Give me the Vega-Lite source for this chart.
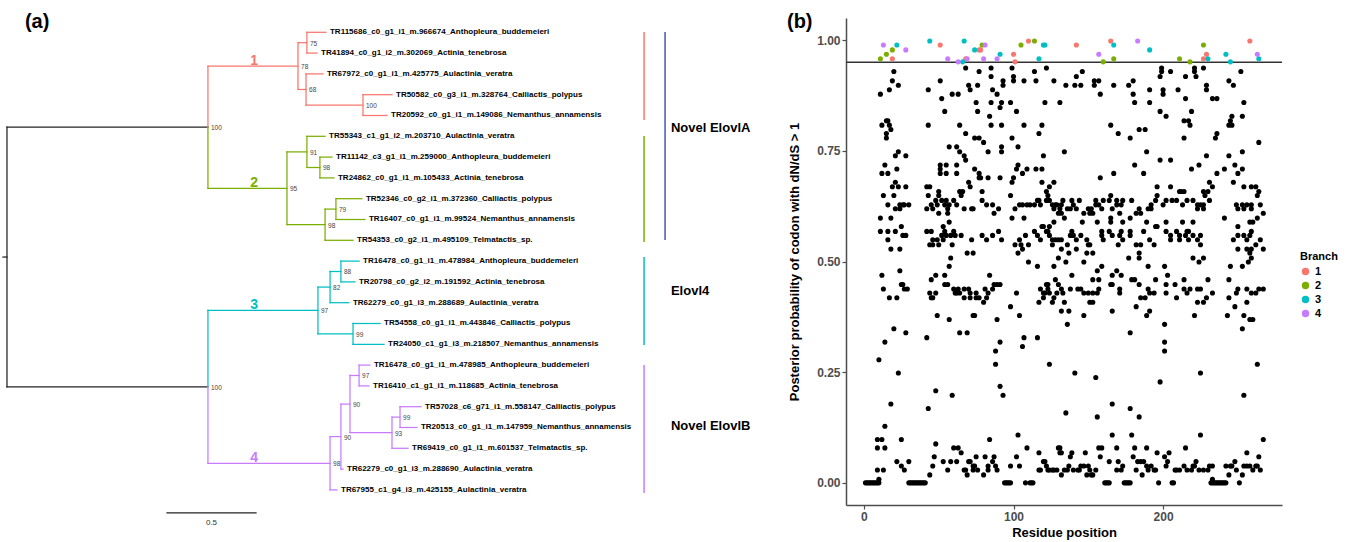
{
"$schema":"https://vega.github.io/schema/vega-lite/v6.json",
"autosize":{"type":"none"},
"width":436,"height":487,
"padding":{"left":846,"top":18,"right":65,"bottom":37},
"background":"white",
"config":{"view":{"stroke":null},"font":"Liberation Sans",
 "axis":{"grid":false,"domainColor":"#4d4d4d","domainWidth":1.5,"tickColor":"#4d4d4d","tickWidth":1.2,"tickSize":4,"labelColor":"#4d4d4d","labelFont":"Liberation Sans","labelFontWeight":"bold","labelFontSize":12,"labelPadding":2,"titleFont":"Liberation Sans","titleFontWeight":"bold","titleFontSize":13,"titleColor":"black"}},
"datasets":{
"seg":[
{"x":0,"x2":0,"y":5.5625,"y2":18.047,"g":"0"},
{"x":0,"x2":1.129,"y":5.5625,"y2":5.5625,"g":"0"},
{"x":0,"x2":1.129,"y":18.047,"y2":18.047,"g":"0"},
{"x":-0.0225,"x2":0,"y":11.805,"y2":11.805,"g":"0"},
{"x":0.899,"x2":1.399,"y":24.11,"y2":24.11,"g":"0"},
{"x":1.129,"x2":1.129,"y":2.625,"y2":5.5625,"g":"1"},
{"x":1.129,"x2":1.635,"y":2.625,"y2":2.625,"g":"1"},
{"x":1.635,"x2":1.635,"y":1.5,"y2":3.75,"g":"1"},
{"x":1.635,"x2":1.685,"y":1.5,"y2":1.5,"g":"1"},
{"x":1.685,"x2":1.685,"y":1,"y2":2,"g":"1"},
{"x":1.685,"x2":1.792,"y":1,"y2":1,"g":"1"},
{"x":1.685,"x2":1.742,"y":2,"y2":2,"g":"1"},
{"x":1.635,"x2":1.68,"y":3.75,"y2":3.75,"g":"1"},
{"x":1.68,"x2":1.68,"y":3,"y2":4.5,"g":"1"},
{"x":1.68,"x2":1.775,"y":3,"y2":3,"g":"1"},
{"x":1.68,"x2":2.0,"y":4.5,"y2":4.5,"g":"1"},
{"x":2.0,"x2":2.0,"y":4,"y2":5,"g":"1"},
{"x":2.0,"x2":2.163,"y":4,"y2":4,"g":"1"},
{"x":2.0,"x2":2.135,"y":5,"y2":5,"g":"1"},
{"x":1.129,"x2":1.129,"y":5.5625,"y2":8.5,"g":"2"},
{"x":1.129,"x2":1.573,"y":8.5,"y2":8.5,"g":"2"},
{"x":1.573,"x2":1.573,"y":6.75,"y2":10.25,"g":"2"},
{"x":1.573,"x2":1.685,"y":6.75,"y2":6.75,"g":"2"},
{"x":1.685,"x2":1.685,"y":6,"y2":7.5,"g":"2"},
{"x":1.685,"x2":1.787,"y":6,"y2":6,"g":"2"},
{"x":1.685,"x2":1.758,"y":7.5,"y2":7.5,"g":"2"},
{"x":1.758,"x2":1.758,"y":7,"y2":8,"g":"2"},
{"x":1.758,"x2":1.826,"y":7,"y2":7,"g":"2"},
{"x":1.758,"x2":1.837,"y":8,"y2":8,"g":"2"},
{"x":1.573,"x2":1.787,"y":10.25,"y2":10.25,"g":"2"},
{"x":1.787,"x2":1.787,"y":9.5,"y2":11,"g":"2"},
{"x":1.787,"x2":1.848,"y":9.5,"y2":9.5,"g":"2"},
{"x":1.848,"x2":1.848,"y":9,"y2":10,"g":"2"},
{"x":1.848,"x2":1.994,"y":9,"y2":9,"g":"2"},
{"x":1.848,"x2":2.011,"y":10,"y2":10,"g":"2"},
{"x":1.787,"x2":1.944,"y":11,"y2":11,"g":"2"},
{"x":1.129,"x2":1.129,"y":14.375,"y2":18.047,"g":"3"},
{"x":1.129,"x2":1.747,"y":14.375,"y2":14.375,"g":"3"},
{"x":1.747,"x2":1.747,"y":13.25,"y2":15.5,"g":"3"},
{"x":1.747,"x2":1.815,"y":13.25,"y2":13.25,"g":"3"},
{"x":1.815,"x2":1.815,"y":12.5,"y2":14,"g":"3"},
{"x":1.815,"x2":1.876,"y":12.5,"y2":12.5,"g":"3"},
{"x":1.876,"x2":1.876,"y":12,"y2":13,"g":"3"},
{"x":1.876,"x2":1.978,"y":12,"y2":12,"g":"3"},
{"x":1.876,"x2":1.955,"y":13,"y2":13,"g":"3"},
{"x":1.815,"x2":1.921,"y":14,"y2":14,"g":"3"},
{"x":1.747,"x2":1.944,"y":15.5,"y2":15.5,"g":"3"},
{"x":1.944,"x2":1.944,"y":15,"y2":16,"g":"3"},
{"x":1.944,"x2":2.096,"y":15,"y2":15,"g":"3"},
{"x":1.944,"x2":2.118,"y":16,"y2":16,"g":"3"},
{"x":1.129,"x2":1.129,"y":18.047,"y2":21.719,"g":"4"},
{"x":1.129,"x2":1.815,"y":21.719,"y2":21.719,"g":"4"},
{"x":1.815,"x2":1.815,"y":20.4375,"y2":23,"g":"4"},
{"x":1.815,"x2":1.876,"y":20.4375,"y2":20.4375,"g":"4"},
{"x":1.876,"x2":1.876,"y":18.875,"y2":22,"g":"4"},
{"x":1.876,"x2":1.927,"y":18.875,"y2":18.875,"g":"4"},
{"x":1.927,"x2":1.927,"y":17.5,"y2":20.25,"g":"4"},
{"x":1.927,"x2":1.978,"y":17.5,"y2":17.5,"g":"4"},
{"x":1.978,"x2":1.978,"y":17,"y2":18,"g":"4"},
{"x":1.978,"x2":2.039,"y":17,"y2":17,"g":"4"},
{"x":1.978,"x2":2.034,"y":18,"y2":18,"g":"4"},
{"x":1.927,"x2":2.163,"y":20.25,"y2":20.25,"g":"4"},
{"x":2.163,"x2":2.163,"y":19.5,"y2":21,"g":"4"},
{"x":2.163,"x2":2.208,"y":19.5,"y2":19.5,"g":"4"},
{"x":2.208,"x2":2.208,"y":19,"y2":20,"g":"4"},
{"x":2.208,"x2":2.326,"y":19,"y2":19,"g":"4"},
{"x":2.208,"x2":2.303,"y":20,"y2":20,"g":"4"},
{"x":2.163,"x2":2.253,"y":21,"y2":21,"g":"4"},
{"x":1.876,"x2":1.888,"y":22,"y2":22,"g":"4"},
{"x":1.815,"x2":1.854,"y":23,"y2":23,"g":"4"}
],
"bars":[
{"x":3.579,"x2":3.579,"y":0.99,"y2":5.22,"g":"1"},
{"x":3.579,"x2":3.579,"y":5.99,"y2":11.08,"g":"2"},
{"x":3.697,"x2":3.697,"y":0.99,"y2":10.99,"g":"A"},
{"x":3.579,"x2":3.579,"y":11.8,"y2":16.03,"g":"3"},
{"x":3.579,"x2":3.579,"y":16.99,"y2":23.15,"g":"4"}
],
"tips":[
{"x":1.792,"y":1,"label":"TR115686_c0_g1_i1_m.966674_Anthopleura_buddemeieri"},
{"x":1.742,"y":2,"label":"TR41894_c0_g1_i2_m.302069_Actinia_tenebrosa"},
{"x":1.775,"y":3,"label":"TR67972_c0_g1_i1_m.425775_Aulactinia_veratra"},
{"x":2.163,"y":4,"label":"TR50582_c0_g3_i1_m.328764_Calliactis_polypus"},
{"x":2.135,"y":5,"label":"TR20592_c0_g1_i1_m.149086_Nemanthus_annamensis"},
{"x":1.787,"y":6,"label":"TR55343_c1_g1_i2_m.203710_Aulactinia_veratra"},
{"x":1.826,"y":7,"label":"TR11142_c3_g1_i1_m.259000_Anthopleura_buddemeieri"},
{"x":1.837,"y":8,"label":"TR24862_c0_g1_i1_m.105433_Actinia_tenebrosa"},
{"x":1.994,"y":9,"label":"TR52346_c0_g2_i1_m.372360_Calliactis_polypus"},
{"x":2.011,"y":10,"label":"TR16407_c0_g1_i1_m.99524_Nemanthus_annamensis"},
{"x":1.944,"y":11,"label":"TR54353_c0_g2_i1_m.495109_Telmatactis_sp."},
{"x":1.978,"y":12,"label":"TR16478_c0_g1_i1_m.478984_Anthopleura_buddemeieri"},
{"x":1.955,"y":13,"label":"TR20798_c0_g2_i2_m.191592_Actinia_tenebrosa"},
{"x":1.921,"y":14,"label":"TR62279_c0_g1_i3_m.288689_Aulactinia_veratra"},
{"x":2.096,"y":15,"label":"TR54558_c0_g1_i1_m.443846_Calliactis_polypus"},
{"x":2.118,"y":16,"label":"TR24050_c1_g1_i3_m.218507_Nemanthus_annamensis"},
{"x":2.039,"y":17,"label":"TR16478_c0_g1_i1_m.478985_Anthopleura_buddemeieri"},
{"x":2.034,"y":18,"label":"TR16410_c1_g1_i1_m.118685_Actinia_tenebrosa"},
{"x":2.326,"y":19,"label":"TR57028_c6_g71_i1_m.558147_Calliactis_polypus"},
{"x":2.303,"y":20,"label":"TR20513_c0_g1_i1_m.147959_Nemanthus_annamensis"},
{"x":2.253,"y":21,"label":"TR69419_c0_g1_i1_m.601537_Telmatactis_sp."},
{"x":1.888,"y":22,"label":"TR62279_c0_g1_i3_m.288690_Aulactinia_veratra"},
{"x":1.854,"y":23,"label":"TR67955_c1_g4_i3_m.425155_Aulactinia_veratra"}
],
"boot":[
{"x":1.129,"y":5.5625,"v":"100"},{"x":1.635,"y":2.625,"v":"78"},{"x":1.685,"y":1.5,"v":"75"},{"x":1.68,"y":3.75,"v":"68"},{"x":2.0,"y":4.5,"v":"100"},
{"x":1.573,"y":8.5,"v":"95"},{"x":1.685,"y":6.75,"v":"91"},{"x":1.758,"y":7.5,"v":"98"},{"x":1.787,"y":10.25,"v":"98"},{"x":1.848,"y":9.5,"v":"79"},
{"x":1.129,"y":18.047,"v":"100"},{"x":1.747,"y":14.375,"v":"97"},{"x":1.815,"y":13.25,"v":"82"},{"x":1.876,"y":12.5,"v":"88"},{"x":1.944,"y":15.5,"v":"99"},
{"x":1.815,"y":21.719,"v":"98"},{"x":1.876,"y":20.4375,"v":"90"},{"x":1.927,"y":18.875,"v":"90"},{"x":1.978,"y":17.5,"v":"97"},{"x":2.163,"y":20.25,"v":"93"},{"x":2.208,"y":19.5,"v":"99"}
],
"cnum":[
{"x":1.388,"y":2.625,"t":"1","g":"1"},{"x":1.388,"y":8.5,"t":"2","g":"2"},{"x":1.388,"y":14.375,"t":"3","g":"3"},{"x":1.388,"y":21.719,"t":"4","g":"4"}
],
"clab":[
{"x":3.73,"y":5.6,"t":"Novel ElovlA"},{"x":3.73,"y":13.44,"t":"Elovl4"},{"x":3.73,"y":19.93,"t":"Novel ElovlB"}
],
"scl":[{"x":1.149,"y":24.59,"t":"0.5"}],
"plab":[{"x":0.101,"y":0.505,"t":"(a)"},{"x":4.382,"y":0.505,"t":"(b)"}],
"pts":[
{"r":19,"p":0.958,"b":1},{"r":51,"p":0.989,"b":1},{"r":68,"p":0.958,"b":1},{"r":77,"p":0.978,"b":1},{"r":78,"p":0.978,"b":1},{"r":100,"p":0.968,"b":1},{"r":101,"p":0.951,"b":1},{"r":110,"p":0.998,"b":1},{"r":142,"p":0.989,"b":1},{"r":165,"p":0.998,"b":1},{"r":227,"p":0.958,"b":1},{"r":229,"p":0.968,"b":1},{"r":258,"p":0.998,"b":1},
{"r":11,"p":0.958,"b":2},{"r":15,"p":0.968,"b":2},{"r":19,"p":0.978,"b":2},{"r":79,"p":0.989,"b":2},{"r":105,"p":0.989,"b":2},{"r":114,"p":0.998,"b":2},{"r":160,"p":0.951,"b":2},{"r":167,"p":0.958,"b":2},{"r":211,"p":0.958,"b":2},{"r":218,"p":0.951,"b":2},{"r":227,"p":0.989,"b":2},
{"r":22,"p":0.989,"b":3},{"r":44,"p":0.998,"b":3},{"r":66,"p":0.951,"b":3},{"r":67,"p":0.998,"b":3},{"r":74,"p":0.978,"b":3},{"r":91,"p":0.968,"b":3},{"r":117,"p":0.958,"b":3},{"r":120,"p":0.989,"b":3},{"r":121,"p":0.989,"b":3},{"r":167,"p":0.989,"b":3},{"r":191,"p":0.978,"b":3},{"r":230,"p":0.958,"b":3},{"r":242,"p":0.968,"b":3},{"r":245,"p":0.951,"b":3},{"r":264,"p":0.958,"b":3},
{"r":13,"p":0.989,"b":4},{"r":28,"p":0.978,"b":4},{"r":56,"p":0.958,"b":4},{"r":63,"p":0.951,"b":4},{"r":69,"p":0.958,"b":4},{"r":80,"p":0.958,"b":4},{"r":81,"p":0.989,"b":4},{"r":89,"p":0.958,"b":4},{"r":157,"p":0.968,"b":4},{"r":183,"p":0.998,"b":4},{"r":263,"p":0.968,"b":4},
{"r":68,"p":0.937,"b":1},{"r":85,"p":0.937,"b":2},{"r":99,"p":0.937,"b":3},{"r":122,"p":0.937,"b":4},{"r":199,"p":0.937,"b":1},{"r":221,"p":0.937,"b":2},{"r":227,"p":0.937,"b":3},
{"r":20,"p":0.929,"b":1},{"r":77,"p":0.929,"b":2},{"r":114,"p":0.929,"b":3},{"r":146,"p":0.929,"b":4},{"r":199,"p":0.929,"b":1},{"r":205,"p":0.929,"b":2},{"r":221,"p":0.929,"b":3},{"r":252,"p":0.929,"b":4},
{"r":85,"p":0.918,"b":1},{"r":100,"p":0.918,"b":2},{"r":142,"p":0.918,"b":3},{"r":198,"p":0.918,"b":4},{"r":215,"p":0.918,"b":1},{"r":222,"p":0.918,"b":2},
{"r":19,"p":0.908,"b":1},{"r":51,"p":0.908,"b":2},{"r":93,"p":0.908,"b":3},{"r":100,"p":0.908,"b":4},{"r":107,"p":0.908,"b":1},{"r":115,"p":0.908,"b":2},{"r":127,"p":0.908,"b":3},{"r":154,"p":0.908,"b":4},{"r":157,"p":0.908,"b":1},{"r":180,"p":0.908,"b":2},{"r":244,"p":0.908,"b":3},
{"r":23,"p":0.898,"b":1},{"r":70,"p":0.898,"b":2},{"r":76,"p":0.898,"b":3},{"r":93,"p":0.898,"b":4},{"r":135,"p":0.898,"b":1},{"r":141,"p":0.898,"b":2},{"r":145,"p":0.898,"b":3},{"r":154,"p":0.898,"b":4},{"r":167,"p":0.898,"b":1},{"r":177,"p":0.898,"b":2},{"r":229,"p":0.898,"b":3},{"r":247,"p":0.898,"b":4},
{"r":17,"p":0.888,"b":1},{"r":43,"p":0.888,"b":2},{"r":71,"p":0.888,"b":3},{"r":86,"p":0.888,"b":4},{"r":191,"p":0.888,"b":1},{"r":200,"p":0.888,"b":2},{"r":210,"p":0.888,"b":3},{"r":229,"p":0.888,"b":4},
{"r":11,"p":0.878,"b":1},{"r":59,"p":0.878,"b":2},{"r":63,"p":0.878,"b":3},{"r":89,"p":0.878,"b":4},{"r":158,"p":0.878,"b":1},{"r":180,"p":0.878,"b":2},{"r":200,"p":0.878,"b":3},
{"r":52,"p":0.868,"b":1},{"r":215,"p":0.868,"b":2},{"r":233,"p":0.868,"b":3},{"r":236,"p":0.868,"b":4},
{"r":75,"p":0.859,"b":1},{"r":85,"p":0.859,"b":2},{"r":92,"p":0.859,"b":3},{"r":98,"p":0.859,"b":4},{"r":121,"p":0.859,"b":1},{"r":131,"p":0.859,"b":2},{"r":181,"p":0.859,"b":3},{"r":191,"p":0.859,"b":4},{"r":254,"p":0.859,"b":1},
{"r":91,"p":0.848,"b":1},
{"r":54,"p":0.839,"b":1},{"r":76,"p":0.839,"b":2},{"r":102,"p":0.839,"b":3},{"r":198,"p":0.839,"b":4},{"r":219,"p":0.839,"b":1},
{"r":84,"p":0.828,"b":1},{"r":202,"p":0.828,"b":2},{"r":246,"p":0.828,"b":3},{"r":253,"p":0.828,"b":4},
{"r":15,"p":0.818,"b":1},{"r":16,"p":0.818,"b":2},{"r":214,"p":0.818,"b":3},{"r":217,"p":0.818,"b":4},{"r":245,"p":0.818,"b":1},
{"r":12,"p":0.808,"b":1},{"r":17,"p":0.808,"b":2},{"r":43,"p":0.808,"b":3},{"r":64,"p":0.808,"b":4},{"r":85,"p":0.808,"b":1},{"r":92,"p":0.808,"b":2},{"r":107,"p":0.808,"b":3},{"r":119,"p":0.808,"b":4},{"r":165,"p":0.808,"b":1},{"r":218,"p":0.808,"b":2},{"r":244,"p":0.808,"b":3},{"r":246,"p":0.808,"b":4},
{"r":18,"p":0.798,"b":1},{"r":184,"p":0.798,"b":2},{"r":188,"p":0.798,"b":3},
{"r":15,"p":0.789,"b":1},{"r":68,"p":0.789,"b":2},{"r":117,"p":0.789,"b":3},{"r":170,"p":0.789,"b":4},{"r":236,"p":0.789,"b":1},
{"r":15,"p":0.779,"b":1},{"r":74,"p":0.779,"b":2},{"r":77,"p":0.779,"b":3},{"r":99,"p":0.779,"b":4},{"r":178,"p":0.779,"b":1},{"r":214,"p":0.779,"b":2},{"r":235,"p":0.779,"b":3},
{"r":80,"p":0.769,"b":1},{"r":264,"p":0.769,"b":2},
{"r":57,"p":0.759,"b":1},{"r":62,"p":0.759,"b":2},{"r":92,"p":0.759,"b":3},{"r":103,"p":0.759,"b":4},
{"r":23,"p":0.748,"b":1},{"r":64,"p":0.748,"b":2},{"r":83,"p":0.748,"b":3},{"r":92,"p":0.748,"b":4},{"r":134,"p":0.748,"b":1},{"r":189,"p":0.748,"b":2},{"r":253,"p":0.748,"b":3},
{"r":21,"p":0.739,"b":1},{"r":28,"p":0.739,"b":2},{"r":67,"p":0.739,"b":3},{"r":120,"p":0.739,"b":4},{"r":229,"p":0.739,"b":1},{"r":244,"p":0.739,"b":2},
{"r":68,"p":0.729,"b":1},{"r":198,"p":0.729,"b":2},{"r":205,"p":0.729,"b":3},
{"r":14,"p":0.718,"b":1},{"r":51,"p":0.718,"b":2},{"r":55,"p":0.718,"b":3},{"r":62,"p":0.718,"b":4},{"r":103,"p":0.718,"b":1},{"r":181,"p":0.718,"b":2},{"r":224,"p":0.718,"b":3},{"r":248,"p":0.718,"b":4},
{"r":22,"p":0.709,"b":1},{"r":51,"p":0.709,"b":2},{"r":74,"p":0.709,"b":3},{"r":102,"p":0.709,"b":4},{"r":109,"p":0.709,"b":1},{"r":115,"p":0.709,"b":2},{"r":119,"p":0.709,"b":3},{"r":219,"p":0.709,"b":4},{"r":241,"p":0.709,"b":1},{"r":253,"p":0.709,"b":2},
{"r":12,"p":0.699,"b":1},{"r":16,"p":0.699,"b":2},{"r":51,"p":0.699,"b":3},{"r":55,"p":0.699,"b":4},{"r":62,"p":0.699,"b":1},{"r":77,"p":0.699,"b":2},{"r":106,"p":0.699,"b":3},{"r":167,"p":0.699,"b":4},{"r":187,"p":0.699,"b":1},{"r":236,"p":0.699,"b":2},{"r":250,"p":0.699,"b":3},
{"r":77,"p":0.689,"b":1},{"r":78,"p":0.689,"b":2},{"r":83,"p":0.689,"b":3},{"r":91,"p":0.689,"b":4},{"r":100,"p":0.689,"b":1},{"r":158,"p":0.689,"b":2},
{"r":21,"p":0.679,"b":1},{"r":70,"p":0.679,"b":2},{"r":99,"p":0.679,"b":3},{"r":119,"p":0.679,"b":4},{"r":127,"p":0.679,"b":1},{"r":231,"p":0.679,"b":2},{"r":247,"p":0.679,"b":3},
{"r":19,"p":0.669,"b":1},{"r":23,"p":0.669,"b":2},{"r":28,"p":0.669,"b":3},{"r":42,"p":0.669,"b":4},{"r":44,"p":0.669,"b":1},{"r":71,"p":0.669,"b":2},{"r":124,"p":0.669,"b":3},{"r":196,"p":0.669,"b":4},{"r":205,"p":0.669,"b":1},{"r":233,"p":0.669,"b":2},{"r":254,"p":0.669,"b":3},{"r":259,"p":0.669,"b":4},{"r":262,"p":0.669,"b":1},
{"r":50,"p":0.658,"b":1},{"r":64,"p":0.658,"b":2},{"r":66,"p":0.658,"b":3},{"r":79,"p":0.658,"b":4},{"r":122,"p":0.658,"b":1},{"r":211,"p":0.658,"b":2},{"r":212,"p":0.658,"b":3},{"r":214,"p":0.658,"b":4},{"r":227,"p":0.658,"b":1},{"r":230,"p":0.658,"b":2},{"r":264,"p":0.658,"b":3},
{"r":13,"p":0.649,"b":1},{"r":20,"p":0.649,"b":2},{"r":43,"p":0.649,"b":3},{"r":50,"p":0.649,"b":4},{"r":65,"p":0.649,"b":1},{"r":98,"p":0.649,"b":2},{"r":123,"p":0.649,"b":3},{"r":165,"p":0.649,"b":4},{"r":196,"p":0.649,"b":1},{"r":228,"p":0.649,"b":2},{"r":263,"p":0.649,"b":3},
{"r":48,"p":0.638,"b":1},{"r":52,"p":0.638,"b":2},{"r":55,"p":0.638,"b":3},{"r":60,"p":0.638,"b":4},{"r":79,"p":0.638,"b":1},{"r":116,"p":0.638,"b":2},{"r":117,"p":0.638,"b":3},{"r":122,"p":0.638,"b":4},{"r":124,"p":0.638,"b":1},{"r":133,"p":0.638,"b":2},{"r":139,"p":0.638,"b":3},{"r":144,"p":0.638,"b":4},{"r":155,"p":0.638,"b":1},{"r":160,"p":0.638,"b":2},{"r":164,"p":0.638,"b":3},{"r":169,"p":0.638,"b":4},{"r":173,"p":0.638,"b":1},{"r":179,"p":0.638,"b":2},{"r":195,"p":0.638,"b":3},{"r":202,"p":0.638,"b":4},{"r":206,"p":0.638,"b":1},{"r":209,"p":0.638,"b":2},{"r":216,"p":0.638,"b":3},{"r":220,"p":0.638,"b":4},{"r":231,"p":0.638,"b":1},
{"r":16,"p":0.628,"b":1},{"r":24,"p":0.628,"b":2},{"r":26,"p":0.628,"b":3},{"r":27,"p":0.628,"b":4},{"r":30,"p":0.628,"b":1},{"r":45,"p":0.628,"b":2},{"r":49,"p":0.628,"b":3},{"r":54,"p":0.628,"b":4},{"r":57,"p":0.628,"b":1},{"r":62,"p":0.628,"b":2},{"r":82,"p":0.628,"b":3},{"r":86,"p":0.628,"b":4},{"r":104,"p":0.628,"b":1},{"r":106,"p":0.628,"b":2},{"r":109,"p":0.628,"b":3},{"r":111,"p":0.628,"b":4},{"r":114,"p":0.628,"b":1},{"r":118,"p":0.628,"b":2},{"r":126,"p":0.628,"b":3},{"r":128,"p":0.628,"b":4},{"r":129,"p":0.628,"b":1},{"r":132,"p":0.628,"b":2},{"r":140,"p":0.628,"b":3},{"r":155,"p":0.628,"b":4},{"r":157,"p":0.628,"b":1},{"r":169,"p":0.628,"b":2},{"r":172,"p":0.628,"b":3},{"r":192,"p":0.628,"b":4},{"r":200,"p":0.628,"b":1},{"r":213,"p":0.628,"b":2},{"r":223,"p":0.628,"b":3},{"r":225,"p":0.628,"b":4},{"r":227,"p":0.628,"b":1},{"r":249,"p":0.628,"b":2},{"r":253,"p":0.628,"b":3},{"r":256,"p":0.628,"b":4},{"r":259,"p":0.628,"b":1},{"r":265,"p":0.628,"b":2},
{"r":21,"p":0.619,"b":1},{"r":24,"p":0.619,"b":2},{"r":42,"p":0.619,"b":3},{"r":46,"p":0.619,"b":4},{"r":56,"p":0.619,"b":1},{"r":67,"p":0.619,"b":2},{"r":72,"p":0.619,"b":3},{"r":73,"p":0.619,"b":4},{"r":90,"p":0.619,"b":1},{"r":101,"p":0.619,"b":2},{"r":127,"p":0.619,"b":3},{"r":131,"p":0.619,"b":4},{"r":136,"p":0.619,"b":1},{"r":138,"p":0.619,"b":2},{"r":142,"p":0.619,"b":3},{"r":150,"p":0.619,"b":4},{"r":152,"p":0.619,"b":1},{"r":159,"p":0.619,"b":2},{"r":166,"p":0.619,"b":3},{"r":184,"p":0.619,"b":4},{"r":190,"p":0.619,"b":1},{"r":192,"p":0.619,"b":2},{"r":223,"p":0.619,"b":3},{"r":227,"p":0.619,"b":4},{"r":250,"p":0.619,"b":1},{"r":254,"p":0.619,"b":2},{"r":259,"p":0.619,"b":3},
{"r":50,"p":0.609,"b":1},{"r":56,"p":0.609,"b":2},{"r":87,"p":0.609,"b":3},{"r":130,"p":0.609,"b":4},{"r":132,"p":0.609,"b":1},{"r":147,"p":0.609,"b":2},{"r":151,"p":0.609,"b":3},{"r":153,"p":0.609,"b":4},{"r":171,"p":0.609,"b":1},{"r":182,"p":0.609,"b":2},{"r":185,"p":0.609,"b":3},{"r":267,"p":0.609,"b":4},
{"r":11,"p":0.598,"b":1},{"r":18,"p":0.598,"b":2},{"r":99,"p":0.598,"b":3},{"r":107,"p":0.598,"b":4},{"r":134,"p":0.598,"b":1},{"r":165,"p":0.598,"b":2},{"r":178,"p":0.598,"b":3},{"r":241,"p":0.598,"b":4},{"r":263,"p":0.598,"b":1},
{"r":57,"p":0.589,"b":1},{"r":127,"p":0.589,"b":2},{"r":146,"p":0.589,"b":3},{"r":156,"p":0.589,"b":4},{"r":165,"p":0.589,"b":1},{"r":173,"p":0.589,"b":2},{"r":189,"p":0.589,"b":3},{"r":202,"p":0.589,"b":4},{"r":213,"p":0.589,"b":1},{"r":220,"p":0.589,"b":2},{"r":258,"p":0.589,"b":3},{"r":260,"p":0.589,"b":4},
{"r":25,"p":0.579,"b":1},{"r":53,"p":0.579,"b":2},{"r":119,"p":0.579,"b":3},{"r":120,"p":0.579,"b":4},{"r":124,"p":0.579,"b":1},{"r":195,"p":0.579,"b":2},{"r":196,"p":0.579,"b":3},{"r":250,"p":0.579,"b":4},
{"r":11,"p":0.568,"b":1},{"r":16,"p":0.568,"b":2},{"r":21,"p":0.568,"b":3},{"r":42,"p":0.568,"b":4},{"r":45,"p":0.568,"b":1},{"r":54,"p":0.568,"b":2},{"r":60,"p":0.568,"b":3},{"r":90,"p":0.568,"b":4},{"r":114,"p":0.568,"b":1},{"r":122,"p":0.568,"b":2},{"r":123,"p":0.568,"b":3},{"r":139,"p":0.568,"b":4},{"r":159,"p":0.568,"b":1},{"r":164,"p":0.568,"b":2},{"r":172,"p":0.568,"b":3},{"r":178,"p":0.568,"b":4},{"r":187,"p":0.568,"b":1},{"r":202,"p":0.568,"b":2},{"r":209,"p":0.568,"b":3},{"r":216,"p":0.568,"b":4},{"r":217,"p":0.568,"b":1},{"r":259,"p":0.568,"b":2},
{"r":26,"p":0.559,"b":1},{"r":28,"p":0.559,"b":2},{"r":52,"p":0.559,"b":3},{"r":55,"p":0.559,"b":4},{"r":58,"p":0.559,"b":1},{"r":61,"p":0.559,"b":2},{"r":65,"p":0.559,"b":3},{"r":79,"p":0.559,"b":4},{"r":86,"p":0.559,"b":1},{"r":108,"p":0.559,"b":2},{"r":116,"p":0.559,"b":3},{"r":124,"p":0.559,"b":4},{"r":138,"p":0.559,"b":1},{"r":140,"p":0.559,"b":2},{"r":145,"p":0.559,"b":3},{"r":159,"p":0.559,"b":4},{"r":166,"p":0.559,"b":1},{"r":171,"p":0.559,"b":2},{"r":178,"p":0.559,"b":3},{"r":205,"p":0.559,"b":4},{"r":211,"p":0.559,"b":1},{"r":215,"p":0.559,"b":2},{"r":220,"p":0.559,"b":3},{"r":225,"p":0.559,"b":4},{"r":250,"p":0.559,"b":1},{"r":254,"p":0.559,"b":2},{"r":258,"p":0.559,"b":3},
{"r":16,"p":0.549,"b":1},{"r":46,"p":0.549,"b":2},{"r":49,"p":0.549,"b":3},{"r":53,"p":0.549,"b":4},{"r":72,"p":0.549,"b":1},{"r":82,"p":0.549,"b":2},{"r":92,"p":0.549,"b":3},{"r":104,"p":0.549,"b":4},{"r":118,"p":0.549,"b":1},{"r":126,"p":0.549,"b":2},{"r":130,"p":0.549,"b":3},{"r":128,"p":0.549,"b":4},{"r":132,"p":0.549,"b":1},{"r":142,"p":0.549,"b":2},{"r":149,"p":0.549,"b":3},{"r":160,"p":0.549,"b":4},{"r":173,"p":0.549,"b":1},{"r":191,"p":0.549,"b":2},{"r":205,"p":0.549,"b":3},{"r":211,"p":0.549,"b":4},{"r":217,"p":0.549,"b":1},{"r":223,"p":0.549,"b":2},{"r":247,"p":0.549,"b":3},{"r":256,"p":0.549,"b":4},{"r":265,"p":0.549,"b":1},
{"r":44,"p":0.538,"b":1},{"r":46,"p":0.538,"b":2},{"r":50,"p":0.538,"b":3},{"r":59,"p":0.538,"b":4},{"r":101,"p":0.538,"b":1},{"r":105,"p":0.538,"b":2},{"r":110,"p":0.538,"b":3},{"r":126,"p":0.538,"b":4},{"r":136,"p":0.538,"b":1},{"r":150,"p":0.538,"b":2},{"r":151,"p":0.538,"b":3},{"r":170,"p":0.538,"b":4},{"r":182,"p":0.538,"b":1},{"r":185,"p":0.538,"b":2},{"r":194,"p":0.538,"b":3},{"r":225,"p":0.538,"b":4},{"r":262,"p":0.538,"b":1},
{"r":18,"p":0.528,"b":1},{"r":24,"p":0.528,"b":2},{"r":106,"p":0.528,"b":3},{"r":132,"p":0.528,"b":4},{"r":142,"p":0.528,"b":1},{"r":250,"p":0.528,"b":2},{"r":256,"p":0.528,"b":3},{"r":259,"p":0.528,"b":4},{"r":267,"p":0.528,"b":1},
{"r":69,"p":0.519,"b":1},{"r":73,"p":0.519,"b":2},{"r":103,"p":0.519,"b":3},{"r":137,"p":0.519,"b":4},{"r":149,"p":0.519,"b":1},{"r":153,"p":0.519,"b":2},{"r":184,"p":0.519,"b":3},{"r":258,"p":0.519,"b":4},
{"r":58,"p":0.508,"b":1},{"r":130,"p":0.508,"b":2},{"r":177,"p":0.508,"b":3},{"r":184,"p":0.508,"b":4},{"r":220,"p":0.508,"b":1},{"r":227,"p":0.508,"b":2},{"r":259,"p":0.508,"b":3},
{"r":110,"p":0.499,"b":1},{"r":135,"p":0.499,"b":2},{"r":147,"p":0.499,"b":3},{"r":224,"p":0.499,"b":4},{"r":257,"p":0.499,"b":1},
{"r":57,"p":0.489,"b":1},{"r":116,"p":0.489,"b":2},{"r":127,"p":0.489,"b":3},{"r":159,"p":0.489,"b":4},{"r":190,"p":0.489,"b":1},{"r":201,"p":0.489,"b":2},{"r":245,"p":0.489,"b":3},{"r":253,"p":0.489,"b":4},
{"r":24,"p":0.479,"b":1},{"r":156,"p":0.479,"b":2},{"r":169,"p":0.479,"b":3},
{"r":12,"p":0.469,"b":1},{"r":48,"p":0.469,"b":2},{"r":54,"p":0.469,"b":3},{"r":84,"p":0.469,"b":4},{"r":139,"p":0.469,"b":1},{"r":166,"p":0.469,"b":2},{"r":172,"p":0.469,"b":3},{"r":203,"p":0.469,"b":4},
{"r":45,"p":0.459,"b":1},{"r":128,"p":0.459,"b":2},{"r":153,"p":0.459,"b":3},{"r":157,"p":0.459,"b":4},{"r":179,"p":0.459,"b":1},{"r":181,"p":0.459,"b":2},{"r":195,"p":0.459,"b":3},{"r":214,"p":0.459,"b":4},{"r":230,"p":0.459,"b":1},{"r":244,"p":0.459,"b":2},
{"r":25,"p":0.448,"b":1},{"r":26,"p":0.448,"b":2},{"r":54,"p":0.448,"b":3},{"r":56,"p":0.448,"b":4},{"r":87,"p":0.448,"b":1},{"r":89,"p":0.448,"b":2},{"r":91,"p":0.448,"b":3},{"r":123,"p":0.448,"b":4},{"r":130,"p":0.448,"b":1},{"r":122,"p":0.448,"b":2},{"r":165,"p":0.448,"b":3},{"r":166,"p":0.448,"b":4},{"r":184,"p":0.448,"b":1},{"r":202,"p":0.448,"b":2},{"r":208,"p":0.448,"b":3},
{"r":13,"p":0.438,"b":1},{"r":27,"p":0.438,"b":2},{"r":29,"p":0.438,"b":3},{"r":60,"p":0.438,"b":4},{"r":63,"p":0.438,"b":1},{"r":67,"p":0.438,"b":2},{"r":70,"p":0.438,"b":3},{"r":81,"p":0.438,"b":4},{"r":86,"p":0.438,"b":1},{"r":118,"p":0.438,"b":2},{"r":123,"p":0.438,"b":3},{"r":132,"p":0.438,"b":4},{"r":138,"p":0.438,"b":1},{"r":143,"p":0.438,"b":2},{"r":145,"p":0.438,"b":3},{"r":157,"p":0.438,"b":4},{"r":171,"p":0.438,"b":1},{"r":190,"p":0.438,"b":2},{"r":214,"p":0.438,"b":3},{"r":218,"p":0.438,"b":4},{"r":223,"p":0.438,"b":1},{"r":225,"p":0.438,"b":2},{"r":250,"p":0.438,"b":3},{"r":256,"p":0.438,"b":4},{"r":264,"p":0.438,"b":1},{"r":267,"p":0.438,"b":2},
{"r":44,"p":0.429,"b":1},{"r":48,"p":0.429,"b":2},{"r":61,"p":0.429,"b":3},{"r":62,"p":0.429,"b":4},{"r":64,"p":0.429,"b":1},{"r":71,"p":0.429,"b":2},{"r":75,"p":0.429,"b":3},{"r":83,"p":0.429,"b":4},{"r":102,"p":0.429,"b":1},{"r":121,"p":0.429,"b":2},{"r":124,"p":0.429,"b":3},{"r":129,"p":0.429,"b":4},{"r":120,"p":0.429,"b":1},{"r":133,"p":0.429,"b":2},{"r":147,"p":0.429,"b":3},{"r":150,"p":0.429,"b":4},{"r":153,"p":0.429,"b":1},{"r":156,"p":0.429,"b":2},{"r":171,"p":0.429,"b":3},{"r":191,"p":0.429,"b":4},{"r":194,"p":0.429,"b":1},{"r":202,"p":0.429,"b":2},{"r":216,"p":0.429,"b":3},{"r":233,"p":0.429,"b":4},{"r":249,"p":0.429,"b":1},{"r":259,"p":0.429,"b":2},{"r":262,"p":0.429,"b":3},
{"r":17,"p":0.418,"b":1},{"r":22,"p":0.418,"b":2},{"r":45,"p":0.418,"b":3},{"r":46,"p":0.418,"b":4},{"r":67,"p":0.418,"b":1},{"r":71,"p":0.418,"b":2},{"r":75,"p":0.418,"b":3},{"r":77,"p":0.418,"b":4},{"r":82,"p":0.418,"b":1},{"r":120,"p":0.418,"b":2},{"r":127,"p":0.418,"b":3},{"r":185,"p":0.418,"b":4},{"r":188,"p":0.418,"b":1},{"r":209,"p":0.418,"b":2},{"r":229,"p":0.418,"b":3},{"r":244,"p":0.418,"b":4},
{"r":80,"p":0.408,"b":1},{"r":117,"p":0.408,"b":2},{"r":126,"p":0.408,"b":3},{"r":134,"p":0.408,"b":4},{"r":151,"p":0.408,"b":1},{"r":153,"p":0.408,"b":2},{"r":223,"p":0.408,"b":3},{"r":227,"p":0.408,"b":4},{"r":256,"p":0.408,"b":1},
{"r":98,"p":0.398,"b":1},{"r":182,"p":0.398,"b":2},{"r":248,"p":0.398,"b":3},
{"r":132,"p":0.388,"b":1},{"r":137,"p":0.388,"b":2},{"r":166,"p":0.388,"b":3},{"r":191,"p":0.388,"b":4},
{"r":49,"p":0.378,"b":1},{"r":73,"p":0.378,"b":2},{"r":74,"p":0.378,"b":3},{"r":104,"p":0.378,"b":4},{"r":147,"p":0.378,"b":1},{"r":189,"p":0.378,"b":2},{"r":221,"p":0.378,"b":3},{"r":243,"p":0.378,"b":4},{"r":254,"p":0.378,"b":1},
{"r":57,"p":0.369,"b":1},{"r":89,"p":0.369,"b":2},{"r":258,"p":0.369,"b":3},{"r":260,"p":0.369,"b":4},
{"r":136,"p":0.358,"b":1},{"r":201,"p":0.358,"b":2},
{"r":20,"p":0.348,"b":1},{"r":253,"p":0.348,"b":2},
{"r":28,"p":0.339,"b":1},{"r":64,"p":0.339,"b":2},{"r":69,"p":0.339,"b":3},{"r":178,"p":0.339,"b":4},
{"r":42,"p":0.328,"b":1},{"r":107,"p":0.328,"b":2},{"r":116,"p":0.328,"b":3},
{"r":14,"p":0.318,"b":1},{"r":91,"p":0.318,"b":2},{"r":201,"p":0.318,"b":3},
{"r":106,"p":0.308,"b":1},
{"r":88,"p":0.298,"b":1},{"r":201,"p":0.298,"b":2},
{"r":10,"p":0.278,"b":1},
{"r":88,"p":0.268,"b":1},{"r":124,"p":0.268,"b":2},{"r":263,"p":0.268,"b":3},
{"r":23,"p":0.248,"b":1},{"r":141,"p":0.248,"b":2},{"r":225,"p":0.248,"b":3},
{"r":155,"p":0.238,"b":1},{"r":198,"p":0.228,"b":2},{"r":91,"p":0.218,"b":3},{"r":48,"p":0.208,"b":4},
{"r":59,"p":0.198,"b":1},{"r":93,"p":0.198,"b":2},{"r":254,"p":0.198,"b":3},
{"r":18,"p":0.178,"b":1},{"r":166,"p":0.178,"b":2},
{"r":43,"p":0.168,"b":1},{"r":178,"p":0.168,"b":2},
{"r":135,"p":0.158,"b":1},
{"r":156,"p":0.149,"b":1},{"r":184,"p":0.149,"b":2},
{"r":14,"p":0.128,"b":1},
{"r":103,"p":0.108,"b":1},{"r":166,"p":0.108,"b":2},{"r":179,"p":0.108,"b":3},{"r":225,"p":0.108,"b":4},
{"r":9,"p":0.098,"b":1},{"r":12,"p":0.098,"b":2},{"r":25,"p":0.098,"b":3},{"r":84,"p":0.098,"b":4},{"r":267,"p":0.098,"b":1},
{"r":48,"p":0.088,"b":1},
{"r":9,"p":0.079,"b":1},{"r":14,"p":0.079,"b":2},{"r":60,"p":0.079,"b":3},{"r":63,"p":0.079,"b":4},{"r":109,"p":0.079,"b":1},{"r":131,"p":0.079,"b":2},{"r":130,"p":0.079,"b":3},{"r":157,"p":0.079,"b":4},{"r":159,"p":0.079,"b":1},{"r":169,"p":0.079,"b":2},{"r":181,"p":0.079,"b":3},{"r":189,"p":0.079,"b":4},{"r":215,"p":0.079,"b":1},
{"r":65,"p":0.068,"b":1},{"r":117,"p":0.068,"b":2},{"r":131,"p":0.068,"b":3},{"r":132,"p":0.068,"b":4},{"r":139,"p":0.068,"b":1},{"r":148,"p":0.068,"b":2},{"r":196,"p":0.068,"b":3},{"r":204,"p":0.068,"b":4},{"r":256,"p":0.068,"b":1},
{"r":47,"p":0.059,"b":1},{"r":75,"p":0.059,"b":2},{"r":81,"p":0.059,"b":3},{"r":87,"p":0.059,"b":4},{"r":102,"p":0.059,"b":1},{"r":138,"p":0.059,"b":2},{"r":158,"p":0.059,"b":3},{"r":180,"p":0.059,"b":4},{"r":201,"p":0.059,"b":1},{"r":264,"p":0.059,"b":2},
{"r":22,"p":0.048,"b":1},{"r":30,"p":0.048,"b":2},{"r":53,"p":0.048,"b":3},{"r":58,"p":0.048,"b":4},{"r":62,"p":0.048,"b":1},{"r":70,"p":0.048,"b":2},{"r":71,"p":0.048,"b":3},{"r":86,"p":0.048,"b":4},{"r":121,"p":0.048,"b":1},{"r":120,"p":0.048,"b":2},{"r":164,"p":0.048,"b":3},{"r":170,"p":0.048,"b":4},{"r":183,"p":0.048,"b":1},{"r":185,"p":0.048,"b":2},{"r":187,"p":0.048,"b":3},{"r":203,"p":0.048,"b":4},{"r":222,"p":0.048,"b":1},{"r":248,"p":0.048,"b":2},
{"r":25,"p":0.038,"b":1},{"r":46,"p":0.038,"b":2},{"r":73,"p":0.038,"b":3},{"r":74,"p":0.038,"b":4},{"r":83,"p":0.038,"b":1},{"r":88,"p":0.038,"b":2},{"r":98,"p":0.038,"b":3},{"r":104,"p":0.038,"b":4},{"r":122,"p":0.038,"b":1},{"r":137,"p":0.038,"b":2},{"r":145,"p":0.038,"b":3},{"r":147,"p":0.038,"b":4},{"r":150,"p":0.038,"b":1},{"r":173,"p":0.038,"b":2},{"r":189,"p":0.038,"b":3},{"r":192,"p":0.038,"b":4},{"r":202,"p":0.038,"b":1},{"r":214,"p":0.038,"b":2},{"r":220,"p":0.038,"b":3},{"r":221,"p":0.038,"b":4},{"r":231,"p":0.038,"b":1},{"r":233,"p":0.038,"b":2},{"r":242,"p":0.038,"b":3},{"r":245,"p":0.038,"b":4},{"r":246,"p":0.038,"b":1},{"r":254,"p":0.038,"b":2},{"r":256,"p":0.038,"b":3},{"r":258,"p":0.038,"b":4},{"r":262,"p":0.038,"b":1},{"r":263,"p":0.038,"b":2},
{"r":9,"p":0.029,"b":1},{"r":13,"p":0.029,"b":2},{"r":27,"p":0.029,"b":3},{"r":56,"p":0.029,"b":4},{"r":67,"p":0.029,"b":1},{"r":68,"p":0.029,"b":2},{"r":73,"p":0.029,"b":3},{"r":76,"p":0.029,"b":4},{"r":83,"p":0.029,"b":1},{"r":89,"p":0.029,"b":2},{"r":117,"p":0.029,"b":3},{"r":124,"p":0.029,"b":4},{"r":127,"p":0.029,"b":1},{"r":129,"p":0.029,"b":2},{"r":118,"p":0.029,"b":3},{"r":123,"p":0.029,"b":4},{"r":126,"p":0.029,"b":1},{"r":134,"p":0.029,"b":2},{"r":136,"p":0.029,"b":3},{"r":140,"p":0.029,"b":4},{"r":143,"p":0.029,"b":1},{"r":144,"p":0.029,"b":2},{"r":151,"p":0.029,"b":3},{"r":155,"p":0.029,"b":4},{"r":169,"p":0.029,"b":1},{"r":172,"p":0.029,"b":2},{"r":182,"p":0.029,"b":3},{"r":190,"p":0.029,"b":4},{"r":194,"p":0.029,"b":1},{"r":195,"p":0.029,"b":2},{"r":208,"p":0.029,"b":3},{"r":209,"p":0.029,"b":4},{"r":211,"p":0.029,"b":1},{"r":216,"p":0.029,"b":2},{"r":219,"p":0.029,"b":3},{"r":224,"p":0.029,"b":4},{"r":227,"p":0.029,"b":1},{"r":230,"p":0.029,"b":2},{"r":249,"p":0.029,"b":3},{"r":260,"p":0.029,"b":4},{"r":265,"p":0.029,"b":1},
{"r":44,"p":0.018,"b":1},{"r":69,"p":0.018,"b":2},{"r":80,"p":0.018,"b":3},{"r":132,"p":0.018,"b":4},{"r":149,"p":0.018,"b":1},{"r":152,"p":0.018,"b":2},{"r":153,"p":0.018,"b":3},{"r":186,"p":0.018,"b":4},{"r":244,"p":0.018,"b":1},{"r":253,"p":0.018,"b":2},
{"r":10,"p":0.008,"b":1},{"r":233,"p":0.008,"b":2},
{"r":1,"p":0,"b":1},{"r":2,"p":0,"b":2},{"r":3,"p":0,"b":3},{"r":4,"p":0,"b":4},{"r":5,"p":0,"b":1},{"r":6,"p":0,"b":2},{"r":7,"p":0,"b":3},{"r":8,"p":0,"b":4},{"r":9,"p":0,"b":1},{"r":10,"p":0,"b":2},
{"r":30,"p":0,"b":1},{"r":31,"p":0,"b":2},{"r":32,"p":0,"b":3},{"r":33,"p":0,"b":4},{"r":34,"p":0,"b":1},{"r":35,"p":0,"b":2},{"r":36,"p":0,"b":3},{"r":37,"p":0,"b":4},{"r":38,"p":0,"b":1},{"r":39,"p":0,"b":2},{"r":40,"p":0,"b":3},{"r":41,"p":0,"b":4},
{"r":94,"p":0,"b":1},{"r":95,"p":0,"b":2},{"r":96,"p":0,"b":3},{"r":97,"p":0,"b":4},{"r":98,"p":0,"b":1},{"r":108,"p":0,"b":2},{"r":111,"p":0,"b":3},{"r":112,"p":0,"b":4},{"r":113,"p":0,"b":1},
{"r":161,"p":0,"b":1},{"r":162,"p":0,"b":2},{"r":163,"p":0,"b":3},{"r":164,"p":0,"b":4},{"r":174,"p":0,"b":1},{"r":175,"p":0,"b":2},{"r":176,"p":0,"b":3},{"r":177,"p":0,"b":4},{"r":178,"p":0,"b":1},{"r":197,"p":0,"b":2},{"r":206,"p":0,"b":3},{"r":207,"p":0,"b":4},
{"r":232,"p":0,"b":1},{"r":233,"p":0,"b":2},{"r":234,"p":0,"b":3},{"r":235,"p":0,"b":4},{"r":236,"p":0,"b":1},{"r":237,"p":0,"b":2},{"r":238,"p":0,"b":3},{"r":239,"p":0,"b":4},{"r":240,"p":0,"b":1},{"r":241,"p":0,"b":2},{"r":242,"p":0,"b":3},{"r":251,"p":0,"b":4}
]
},
"layer":[
{
"layer":[
{"data":{"name":"seg"},"mark":{"type":"rule","strokeWidth":1.25,"strokeCap":"square","clip":false},
 "encoding":{"x":{"field":"x","type":"quantitative","scale":{"domain":[4.7135,7.1629],"zero":false,"nice":false},"axis":null},"x2":{"field":"x2"},
 "y":{"field":"y","type":"quantitative","scale":{"domain":[0.3125,23.726],"reverse":true,"zero":false,"nice":false},"axis":null},"y2":{"field":"y2"},
 "color":{"field":"g","type":"nominal","scale":{"domain":["0","1","2","3","4","A"],"range":["#222222","#F8766D","#7CAE00","#00BFC4","#C77CFF","#4257B2"]},"legend":null}}},
{"data":{"name":"bars"},"mark":{"type":"rule","strokeWidth":1.5,"clip":false},
 "encoding":{"x":{"field":"x","type":"quantitative","axis":null},"x2":{"field":"x2"},"y":{"field":"y","type":"quantitative","axis":null},"y2":{"field":"y2"},
 "color":{"field":"g","type":"nominal","legend":null}}},
{"data":{"name":"tips"},"mark":{"type":"text","align":"left","baseline":"middle","dx":4,"fontSize":8,"fontWeight":"bold","font":"Liberation Sans","color":"black","clip":false},
 "encoding":{"x":{"field":"x","type":"quantitative","axis":null},"y":{"field":"y","type":"quantitative","axis":null},"text":{"field":"label"}}},
{"data":{"name":"boot"},"mark":{"type":"text","align":"left","baseline":"middle","dx":3,"dy":1,"fontSize":6.5,"font":"Liberation Sans","color":"#444444","clip":false},
 "encoding":{"x":{"field":"x","type":"quantitative","axis":null},"y":{"field":"y","type":"quantitative","axis":null},"text":{"field":"v"}}},
{"data":{"name":"cnum"},"mark":{"type":"text","align":"center","baseline":"alphabetic","dy":-1,"fontSize":14,"fontWeight":"bold","font":"Liberation Sans","clip":false},
 "encoding":{"x":{"field":"x","type":"quantitative","axis":null},"y":{"field":"y","type":"quantitative","axis":null},"text":{"field":"t"},"color":{"field":"g","type":"nominal","legend":null}}},
{"data":{"name":"clab"},"mark":{"type":"text","align":"left","baseline":"middle","fontSize":13,"fontWeight":"bold","font":"Liberation Sans","color":"black","clip":false},
 "encoding":{"x":{"field":"x","type":"quantitative","axis":null},"y":{"field":"y","type":"quantitative","axis":null},"text":{"field":"t"}}},
{"data":{"name":"scl"},"mark":{"type":"text","align":"center","baseline":"middle","fontSize":8,"font":"Liberation Sans","color":"#333333","clip":false},
 "encoding":{"x":{"field":"x","type":"quantitative","axis":null},"y":{"field":"y","type":"quantitative","axis":null},"text":{"field":"t"}}},
{"data":{"name":"plab"},"mark":{"type":"text","align":"left","baseline":"middle","fontSize":20,"fontWeight":"bold","font":"Liberation Sans","color":"black","clip":false},
 "encoding":{"x":{"field":"x","type":"quantitative","axis":null},"y":{"field":"y","type":"quantitative","axis":null},"text":{"field":"t"}}}
]
},
{
"layer":[
{"data":{"values":[{}]},"mark":{"type":"rule","color":"#333333","strokeWidth":1.4},
 "encoding":{"y":{"datum":0.95,"type":"quantitative","scale":{"domain":[-0.05,1.05],"zero":false,"nice":false}}}},
{"data":{"name":"pts"},"mark":{"type":"circle","size":26,"opacity":1},
 "encoding":{
  "x":{"field":"r","type":"quantitative","scale":{"domain":[-12,279.5],"zero":false,"nice":false},"axis":{"values":[0,100,200],"title":"Residue position","titlePadding":4}},
  "y":{"field":"p","type":"quantitative","scale":{"domain":[-0.05,1.05],"zero":false,"nice":false},"axis":{"values":[0,0.25,0.5,0.75,1],"format":".2f","title":"Posterior probability of codon with dN/dS > 1","titlePadding":15}},
  "color":{"condition":{"test":"datum.p > 0.95","field":"b","type":"nominal","scale":{"domain":[1,2,3,4],"range":["#F8766D","#7CAE00","#00BFC4","#C77CFF"]},
     "legend":{"title":"Branch","orient":"none","legendX":454,"legendY":233,"titleAnchor":"start","titleFontSize":11,"titleFontWeight":"bold","titleFont":"Liberation Sans","titleColor":"black","titlePadding":4,"labelFontSize":11,"labelFontWeight":"bold","labelFont":"Liberation Sans","labelColor":"black","symbolType":"circle","symbolSize":55,"rowPadding":2,"symbolStrokeWidth":0}},
   "value":"black"}}}
]
}
],
"resolve":{"scale":{"x":"independent","y":"independent","color":"independent"}}
}
